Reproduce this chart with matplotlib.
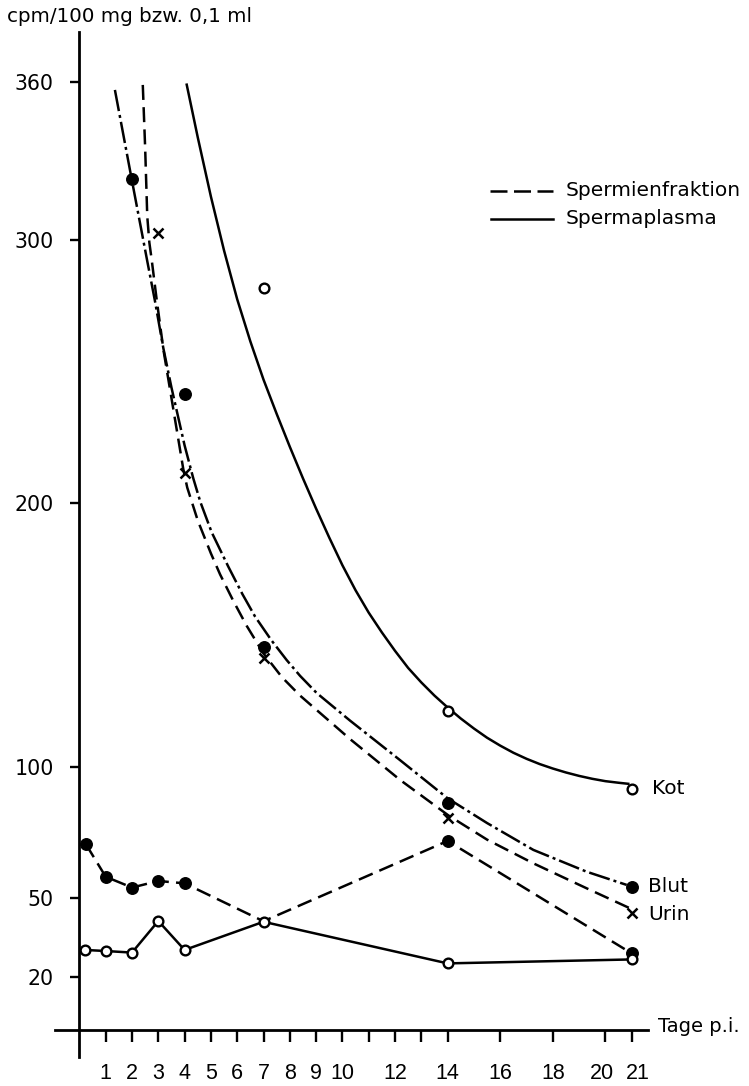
import matplotlib
matplotlib.use("Agg")
import matplotlib.pyplot as plt
from matplotlib.lines import Line2D
import matplotlib.transforms as mtransforms

# ---------------- data (days p.i., cpm) ----------------
# smooth curves, values
kot_curve_x = [4.08, 4.5, 5.0, 5.5, 6.0, 6.5, 7.0, 7.5, 8.0, 8.5, 9.0, 9.5, 10.0, 10.5,
               11.0, 11.5, 12.0, 12.5, 13.0, 13.5, 14.0, 14.5, 15.0, 15.5, 16.0, 16.5,
               17.0, 17.5, 18.0, 18.5, 19.0, 19.5, 20.0, 20.5, 20.87]
kot_curve_y = [359, 339, 316.5, 296, 277.5, 261.5, 247, 234, 221.5, 209.5, 198, 187, 176.5, 167,
               158.5, 151, 144, 137.5, 132, 127, 122.5, 118.3, 114.5, 111, 108, 105.3,
               103, 101, 99.3, 97.8, 96.5, 95.4, 94.5, 93.9, 93.5]

blut_curve_x = [1.35, 1.99, 2.58, 2.87, 3.19, 3.5, 4.0, 4.33, 4.6, 5.03, 5.66, 6.2, 6.68,
                7.3, 7.88, 8.39, 9.02, 10.29, 12.19, 14.0, 15.5, 17.26, 19.29, 20.81]
blut_curve_y = [357, 323, 292, 277, 259, 244, 222, 209.5, 200.5, 189, 176, 165.5, 157,
                148, 140.5, 134.5, 128, 117.5, 102.5, 88, 78.6, 68.4, 60.1, 55.1]

urin_curve_x = [2.41, 2.5, 2.58, 2.66, 2.75, 2.94, 3.2, 3.55, 3.95, 4.1, 4.5, 5.0, 5.35,
                5.85, 6.36, 7.0, 7.7, 8.39, 10.29, 12.19, 14.03, 15.5, 17.26, 19.29, 20.94]
urin_curve_y = [358.9, 335, 309, 299, 292.4, 277.2, 258, 237, 213, 206, 193.5, 181, 173,
                163, 153.5, 143, 134, 127, 110.5, 95, 81.5, 72.3, 63.3, 53.8, 46.2]

# measured points on the upper curves
blut_pts_x = [2, 4, 7, 14, 21]
blut_pts_y = [323, 241.4, 145.6, 86.3, 54.4]
urin_pts_x = [3, 4, 7, 14, 21]
urin_pts_y = [302.6, 211.4, 141.2, 80.5, 44.3]
kot_pts_x = [7, 14, 21]
kot_pts_y = [281.7, 121.0, 91.5]

# lower connected series
blut_low_x = [0.25, 1, 2, 3, 4, 7, 14, 21]
blut_low_y = [70.5, 58.2, 54.1, 56.6, 55.7, 41.3, 71.8, 29.1]
kot_low_x = [0.22, 1, 2, 3, 4, 7, 14, 21]
kot_low_y = [30.4, 30.0, 29.4, 41.4, 30.4, 41.1, 25.3, 26.8]

x_ticks = list(range(1, 15)) + [16, 18, 20, 21]
x_labels = {1: "1", 2: "2", 3: "3", 4: "4", 5: "5", 6: "6", 7: "7", 8: "8", 9: "9",
            10: "10", 12: "12", 14: "14", 16: "16", 18: "18", 20: "20", 21: "21"}
y_ticks = [20, 50, 100, 200, 300, 360]

# ---------------- figure ----------------
W, H = 749, 1086
fig = plt.figure(figsize=(W / 100, H / 100), dpi=100)
fx = lambda px: px / W
fy = lambda py: 1 - py / H

ax = fig.add_axes([fx(55), fy(1057), (648 - 55) / W, (1057 - 32) / H])
ax.set_xlim(-0.928, 21.62)
ax.set_ylim(-10.25, 379)

for s in ["top", "right"]:
    ax.spines[s].set_visible(False)
ax.spines["left"].set_position(("data", 0))
ax.spines["bottom"].set_position(("data", 0))
for s in ["left", "bottom"]:
    ax.spines[s].set_linewidth(2.0)

ax.set_xticks(x_ticks)
ax.set_xticklabels([x_labels.get(t, "") for t in x_ticks],
                   family=["Liberation Sans", "DejaVu Sans"], fontsize=15.5)
ax.set_yticks(y_ticks)
ax.set_yticklabels([str(t) for t in y_ticks], fontsize=14.8)
ax.tick_params(axis="x", direction="out", length=8.6, width=1.7, pad=15)
ax.tick_params(axis="y", direction="out", length=6.5, width=1.7, pad=12)

# nudge the crowded "20" / "21" labels apart as in the original
for t, lab in zip(x_ticks, ax.get_xticklabels()):
    if t == 20:
        lab.set_transform(lab.get_transform() + mtransforms.ScaledTranslation(-3 / 100, 0, fig.dpi_scale_trans))
    if t == 21:
        lab.set_transform(lab.get_transform() + mtransforms.ScaledTranslation(6 / 100, 0, fig.dpi_scale_trans))

lw = 1.8
dash = (6.0, 2.9)
dashdot = (8.6, 1.6, 1.2, 1.6)

# upper curves
ax.plot(kot_curve_x, kot_curve_y, color="black", lw=lw, ls="-")
ax.plot(blut_curve_x, blut_curve_y, color="black", lw=lw, dashes=dashdot)
ax.plot(urin_curve_x, urin_curve_y, color="black", lw=lw, dashes=dash)

# lower series
ax.plot(kot_low_x, kot_low_y, color="black", lw=lw, ls="-")
ax.plot(blut_low_x, blut_low_y, color="black", lw=lw, dashes=dash,
        marker="o", ms=8.3, mfc="black", mec="black", markevery=[0, 1, 2, 3, 4, 6, 7])
ax.plot(kot_low_x, kot_low_y, ls="none", marker="o", ms=7, mfc="white",
        mec="black", mew=1.7)

# points on upper curves
ax.plot(blut_pts_x, blut_pts_y, ls="none", marker="o", ms=8.3, color="black")
ax.plot(urin_pts_x, urin_pts_y, ls="none", marker="x", ms=6.5, mew=1.8, color="black")
ax.plot(kot_pts_x, kot_pts_y, ls="none", marker="o", ms=7, mfc="white",
        mec="black", mew=1.7)

# ---------------- texts ----------------
fs = 14.5
fig.text(fx(6.7), fy(17), "cpm/100 mg bzw. 0,1 ml", fontsize=14.3, va="center", ha="left")
fig.text(fx(652), fy(789), "Kot", fontsize=fs, va="center", ha="left")
fig.text(fx(648), fy(886), "Blut", fontsize=fs, va="center", ha="left")
fig.text(fx(648), fy(915), "Urin", fontsize=fs, va="center", ha="left")
fig.text(fx(658), fy(1026), "Tage p.i.", fontsize=14, va="center", ha="left")

# legend (line style key)
fig.add_artist(Line2D([fx(490), fx(553)], [fy(191), fy(191)], transform=fig.transFigure,
                      color="black", lw=lw, dashes=(6.8, 2.6)))
fig.add_artist(Line2D([fx(491), fx(553)], [fy(219), fy(219)], transform=fig.transFigure,
                      color="black", lw=lw))
fig.text(fx(566), fy(190), "Spermienfraktion", fontsize=fs, va="center", ha="left")
fig.text(fx(566), fy(219), "Spermaplasma", fontsize=fs, va="center", ha="left")

fig.savefig("out.png", dpi=100)
